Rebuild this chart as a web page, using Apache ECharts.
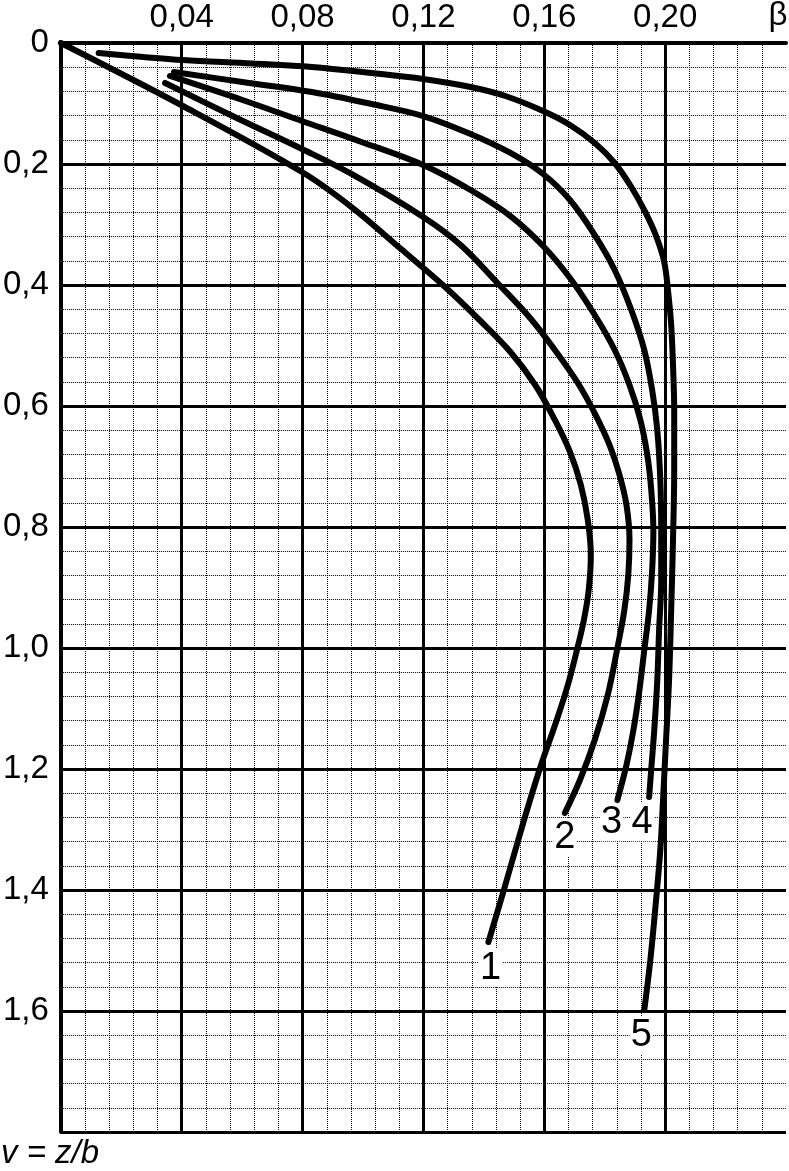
<!DOCTYPE html>
<html><head><meta charset="utf-8">
<script src="https://cdn.jsdelivr.net/npm/echarts@6/dist/echarts.min.js"></script>
<style>html,body{margin:0;padding:0;background:#fff}#c{width:789px;height:1171px}</style>
</head><body><div id="c"></div>
<script>
// Curves: [beta, v]
const curve1 = [[0,0],[0.0404,0.1041],[0.0798,0.2132],[0.0962,0.2711],[0.1126,0.3405],[0.1268,0.4017],[0.1389,0.4595],[0.1488,0.5107],[0.1570,0.5653],[0.1635,0.6231],[0.1685,0.6760],[0.1721,0.7306],[0.1744,0.7884],[0.1754,0.8463],[0.1747,0.9041],[0.1731,0.9537],[0.1708,1.0033],[0.1678,1.0612],[0.1639,1.1223],[0.1586,1.1983],[0.1530,1.2893],[0.1471,1.3917],[0.1415,1.4860]];
const curve2 = [[0.0345,0.0661],[0.0568,0.1207],[0.0798,0.1752],[0.0962,0.2165],[0.1199,0.2876],[0.1323,0.3339],[0.1448,0.3983],[0.1553,0.4545],[0.1635,0.5074],[0.1711,0.5620],[0.1770,0.6149],[0.1816,0.6645],[0.1849,0.7140],[0.1872,0.7636],[0.1882,0.8215],[0.1878,0.8793],[0.1865,0.9372],[0.1842,1.0000],[0.1810,1.0777],[0.1767,1.1521],[0.1718,1.2182],[0.1668,1.2727]];
const curve3 = [[0.0361,0.0545],[0.0601,0.0942],[0.0798,0.1289],[0.0995,0.1636],[0.1199,0.2017],[0.1356,0.2430],[0.1488,0.2860],[0.1596,0.3355],[0.1685,0.3884],[0.1767,0.4496],[0.1833,0.5074],[0.1882,0.5653],[0.1918,0.6231],[0.1941,0.6810],[0.1954,0.7388],[0.1961,0.8050],[0.1957,0.8711],[0.1947,0.9372],[0.1931,1.0033],[0.1915,1.0694],[0.1895,1.1355],[0.1872,1.1934],[0.1842,1.2512]];
const curve4 = [[0.0374,0.0479],[0.0601,0.0645],[0.0831,0.0810],[0.1028,0.1008],[0.1199,0.1207],[0.1356,0.1504],[0.1488,0.1818],[0.1596,0.2165],[0.1685,0.2595],[0.1767,0.3174],[0.1833,0.3752],[0.1888,0.4413],[0.1931,0.5074],[0.1957,0.5736],[0.1974,0.6397],[0.1984,0.7223],[0.1987,0.8050],[0.1987,0.8876],[0.1980,0.9702],[0.1974,1.0529],[0.1964,1.1355],[0.1954,1.2000],[0.1947,1.2463]];
const curve5 = [[0.0125,0.0165],[0.0273,0.0231],[0.0404,0.0281],[0.0634,0.0339],[0.0831,0.0397],[0.1028,0.0496],[0.1199,0.0595],[0.1356,0.0727],[0.1471,0.0876],[0.1596,0.1124],[0.1685,0.1355],[0.1767,0.1653],[0.1833,0.1983],[0.1888,0.2380],[0.1934,0.2793],[0.1970,0.3190],[0.1997,0.3620],[0.2010,0.4116],[0.2020,0.4661],[0.2026,0.5322],[0.2030,0.6066],[0.2030,0.7058],[0.2026,0.8215],[0.2020,0.9372],[0.2013,1.0529],[0.2003,1.1521],[0.1993,1.2512],[0.1984,1.3339],[0.1970,1.4165],[0.1951,1.5157],[0.1931,1.5983]];

const curveNames = ['1','2','3','4','5'];
const curveLabelX = [0.1422,0.1668,0.1823,0.1924,0.1921];
const curveLabelY = [1.529,1.314,1.288,1.288,1.640];

const xTickLabels = ['', '0,04', '0,08', '0,12', '0,16', '0,20', ''];
const yTickLabels = ['0','0,2','0,4','0,6','0,8','1,0','1,2','1,4','1,6',''];
const xAxisName = 'β';
const yAxisName = 'v = z/b';

const chart = echarts.init(document.getElementById('c'), null, {renderer:'canvas'});
const FONT = 'Liberation Sans';
const curves = [curve1, curve2, curve3, curve4, curve5];

const series = curves.map((d, i) => ({
  type: 'line', name: curveNames[i], data: d, symbol: 'none', smooth: 0.35,
  lineStyle: {color: '#000', width: 6, cap: 'round', join: 'round'},
  z: 5, animation: false
}));
series.push({
  type: 'scatter', symbolSize: 0, animation: false, z: 6,
  itemStyle: {opacity: 1},
  data: curveNames.map((n, i) => [curveLabelX[i], curveLabelY[i], n]),
  label: {show: true, position: 'inside', formatter: p => p.data[2], opacity: 1,
    fontSize: 38, fontFamily: FONT, color: '#000', backgroundColor: '#fff', padding: [0, 1]}
});

chart.setOption({
  animation: false,
  backgroundColor: '#fff',
  grid: {left: 57, right: 1, top: 43, bottom: 39},
  xAxis: {
    type: 'value', position: 'top', min: 0, max: 0.24, interval: 0.04,
    axisLine: {show: true, onZero: false, lineStyle: {color: '#000', width: 4}},
    axisTick: {show: false},
    axisLabel: {formatter: v => xTickLabels[Math.round(v / 0.04)], fontSize: 33, fontFamily: FONT, color: '#000', margin: 9},
    splitLine: {show: true, showMaxLine: false, lineStyle: {color: '#000', width: 3}},
    minorTick: {show: false, splitNumber: 5},
    minorSplitLine: {show: true, lineStyle: {color: '#000', width: 1, type: [1, 1]}}
  },
  yAxis: {
    type: 'value', inverse: true, min: 0, max: 1.8, interval: 0.2,
    axisLine: {show: true, onZero: false, lineStyle: {color: '#000', width: 4}},
    axisTick: {show: false},
    axisLabel: {formatter: v => yTickLabels[Math.round(v / 0.2)], fontSize: 33, fontFamily: FONT, color: '#000', margin: 12},
    splitLine: {show: true, lineStyle: {color: '#000', width: 3}},
    minorTick: {show: false, splitNumber: 5},
    minorSplitLine: {show: true, lineStyle: {color: '#000', width: 1, type: [1, 1]}}
  },
  series: series,
  graphic: [
    {type: 'text', x: 778, y: 16, style: {text: xAxisName, font: '33px "Liberation Sans"', fill: '#000', align: 'center', verticalAlign: 'middle'}},
    {type: 'text', x: 1, y: 1154, style: {text: yAxisName, font: 'italic 33px "Liberation Sans"', fill: '#000', align: 'left', verticalAlign: 'middle'}}
  ]
});
</script></body></html>
